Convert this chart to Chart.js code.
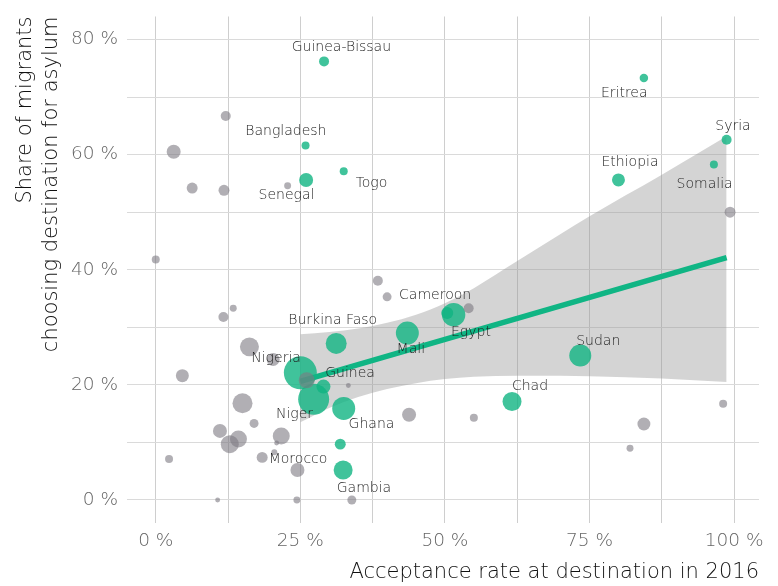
<!DOCTYPE html>
<html>
<head>
<meta charset="utf-8">
<script src="https://cdn.jsdelivr.net/npm/chart.js@4/dist/chart.umd.min.js"></script>
<style>
  html, body { margin: 0; padding: 0; background: #fff; }
  #wrap { width: 778px; height: 586px; }
</style>
</head>
<body>
<div id="wrap"><canvas id="chart" width="778" height="586"></canvas></div>
<script>
// acceptance rate (%), share choosing destination (%), bubble volume
const greyX = [0.0, 3.1, 12.1, 6.3, 11.8, 22.8, 99.3, 38.4, 40.0, 13.4, 11.7, 16.2, 20.3, 26.1, 33.3, 4.6, 15.0, 17.0,
  11.1, 14.3, 12.8, 21.7, 20.9, 2.3, 18.4, 20.5, 24.5, 10.7, 24.4, 33.9, 43.8, 54.1, 55.0, 84.4, 82.0, 98.1];
const greyY = [41.8, 60.5, 66.7, 54.2, 53.8, 54.6, 50.0, 38.1, 35.3, 33.3, 31.8, 26.6, 24.4, 20.8, 19.9, 21.6, 16.8, 13.3,
  12.0, 10.6, 9.7, 11.1, 9.9, 7.1, 7.4, 8.3, 5.2, 0.0, 0.0, 0.0, 14.8, 33.3, 14.3, 13.2, 9.0, 16.7];
const greyVol = [16, 49, 25, 30, 30, 12, 30, 25, 20, 12, 25, 90, 42, 64, 6, 42, 100, 20,
  49, 72, 81, 72, 6, 16, 30, 9, 49, 6, 12, 20, 49, 25, 16, 42, 12, 16];

const greenX = [25.9, 26.0, 32.5, 29.1, 84.4, 98.7, 96.5, 80.0, 25.0, 29.0, 27.3, 31.2, 43.5, 32.5, 31.9, 32.4, 51.5, 50.4, 73.4, 61.6];
const greenY = [61.6, 55.6, 57.1, 76.2, 73.3, 62.6, 58.3, 55.6, 22.1, 19.7, 17.5, 27.2, 29.0, 15.9, 9.7, 5.2, 32.2, 32.5, 25.1, 17.1];
const greenVol = [16, 49, 16, 25, 18, 25, 16, 42, 272, 49, 240, 110, 132, 132, 30, 90, 137, 36, 121, 90];

// linear fit and its confidence band
const fitX = [25.0, 98.7];
const fitY = [20.6, 42.1];
const bandX = [25, 30, 35, 40, 45, 50, 55, 62.5, 70, 75, 87.5, 98.7];
const bandHi = [28.8, 29.2, 29.8, 30.8, 32.2, 34.2, 36.8, 41.5, 46.2, 49.3, 56.5, 63.2];
const bandLo = [13.5, 16.0, 17.9, 19.3, 20.3, 21.0, 21.4, 21.6, 21.6, 21.5, 21.1, 20.5];

// country names and where they sit
const labelNames = ['Guinea-Bissau', 'Bangladesh', 'Senegal', 'Togo', 'Eritrea', 'Syria', 'Ethiopia', 'Somalia',
  'Cameroon', 'Burkina Faso', 'Nigeria', 'Guinea', 'Mali', 'Egypt', 'Sudan', 'Chad', 'Niger', 'Ghana', 'Morocco', 'Gambia'];
const labelX = [32.1, 22.5, 22.6, 37.3, 81.0, 99.8, 82.0, 94.9, 48.3, 30.6, 20.8, 33.6, 44.1, 54.5, 76.5, 64.7, 24.0, 37.3, 24.6, 36.0];
const labelY = [78.7, 64.1, 53.0, 55.0, 70.7, 64.9, 58.6, 54.8, 35.5, 31.2, 24.6, 22.0, 26.2, 29.2, 27.6, 19.7, 14.8, 13.1, 7.1, 2.1];

const xTicks = [0, 12.5, 25, 37.5, 50, 62.5, 75, 87.5, 100];
const yTicks = [0, 10, 20, 30, 40, 50, 60, 70, 80];

const FONT = '"DejaVu Sans", Lato, sans-serif';

const toPoints = (xs, ys) => xs.map((x, i) => ({ x, y: ys[i] }));
const toBubbles = (xs, ys, vol) => xs.map((x, i) => ({ x, y: ys[i], r: Math.sqrt(vol[i]) }));

const countryLabels = {
  id: 'countryLabels',
  afterDatasetsDraw(chart) {
    const { ctx, scales: { x, y } } = chart;
    ctx.save();
    ctx.font = '200 14px ' + FONT;
    ctx.fillStyle = '#1e1e1e';
    ctx.textAlign = 'center';
    ctx.textBaseline = 'middle';
    labelNames.forEach((name, i) => {
      ctx.fillText(name, x.getPixelForValue(labelX[i]), y.getPixelForValue(labelY[i]));
    });
    ctx.restore();
  }
};

new Chart(document.getElementById('chart'), {
  type: 'bubble',
  data: {
    datasets: [
      {
        type: 'line',
        data: toPoints(bandX, bandHi),
        borderWidth: 0,
        pointRadius: 0,
        cubicInterpolationMode: 'monotone',
        backgroundColor: 'rgba(153,153,153,0.42)',
        fill: '+1',
        order: 6
      },
      {
        type: 'line',
        data: toPoints(bandX, bandLo),
        borderWidth: 0,
        pointRadius: 0,
        cubicInterpolationMode: 'monotone',
        fill: false,
        order: 6
      },
      {
        data: toBubbles(greenX, greenY, greenVol),
        backgroundColor: 'rgba(16,180,130,0.8)',
        borderWidth: 0,
        order: 4
      },
      {
        type: 'line',
        data: toPoints(fitX, fitY),
        borderColor: '#10b584',
        borderWidth: 5.5,
        borderCapStyle: 'butt',
        pointRadius: 0,
        fill: false,
        order: 3
      },
      {
        data: toBubbles(greyX, greyY, greyVol),
        backgroundColor: 'rgba(125,121,130,0.6)',
        borderWidth: 0,
        order: 2
      }
    ]
  },
  options: {
    responsive: false,
    animation: false,
    events: [],
    layout: { padding: { top: 13, right: 19, left: 0, bottom: 0 } },
    plugins: {
      legend: { display: false },
      tooltip: { enabled: false }
    },
    scales: {
      x: {
        type: 'linear',
        min: -4.97,
        max: 104.3,
        afterBuildTicks(s) { s.ticks = xTicks.map(v => ({ value: v })); },
        afterFit(s) { s.height = 63; s.paddingLeft = 0; s.paddingRight = 0; },
        border: { display: false },
        grid: { color: '#cecece', lineWidth: 1, drawTicks: false },
        ticks: {
          padding: 7,
          color: '#666',
          font: { family: FONT, size: 18.5, weight: 200 },
          callback: v => (v % 25 === 0 ? v + ' %' : '')
        },
        title: {
          display: true,
          text: 'Acceptance rate at destination in 2016',
          align: 'end',
          color: '#111',
          font: { family: FONT, size: 21, weight: 200 },
          padding: { top: 0, bottom: 1 }
        }
      },
      y: {
        type: 'linear',
        min: -4,
        max: 84,
        afterBuildTicks(s) { s.ticks = yTicks.map(v => ({ value: v })); },
        afterFit(s) { s.width = 127; s.paddingTop = 0; s.paddingBottom = 0; },
        border: { display: false },
        grid: { color: '#dadada', lineWidth: 1, drawTicks: false },
        ticks: {
          padding: 9,
          color: '#666',
          font: { family: FONT, size: 18.5, weight: 200 },
          callback: v => (v % 20 === 0 ? v + ' %' : '')
        },
        title: {
          display: true,
          text: ['Share of migrants', 'choosing destination for asylum'],
          align: 'end',
          color: '#111',
          font: { family: FONT, size: 21, weight: 200, lineHeight: 1.25 },
          padding: { top: 12, bottom: 0 }
        }
      }
    }
  },
  plugins: [countryLabels]
});
</script>
</body>
</html>
